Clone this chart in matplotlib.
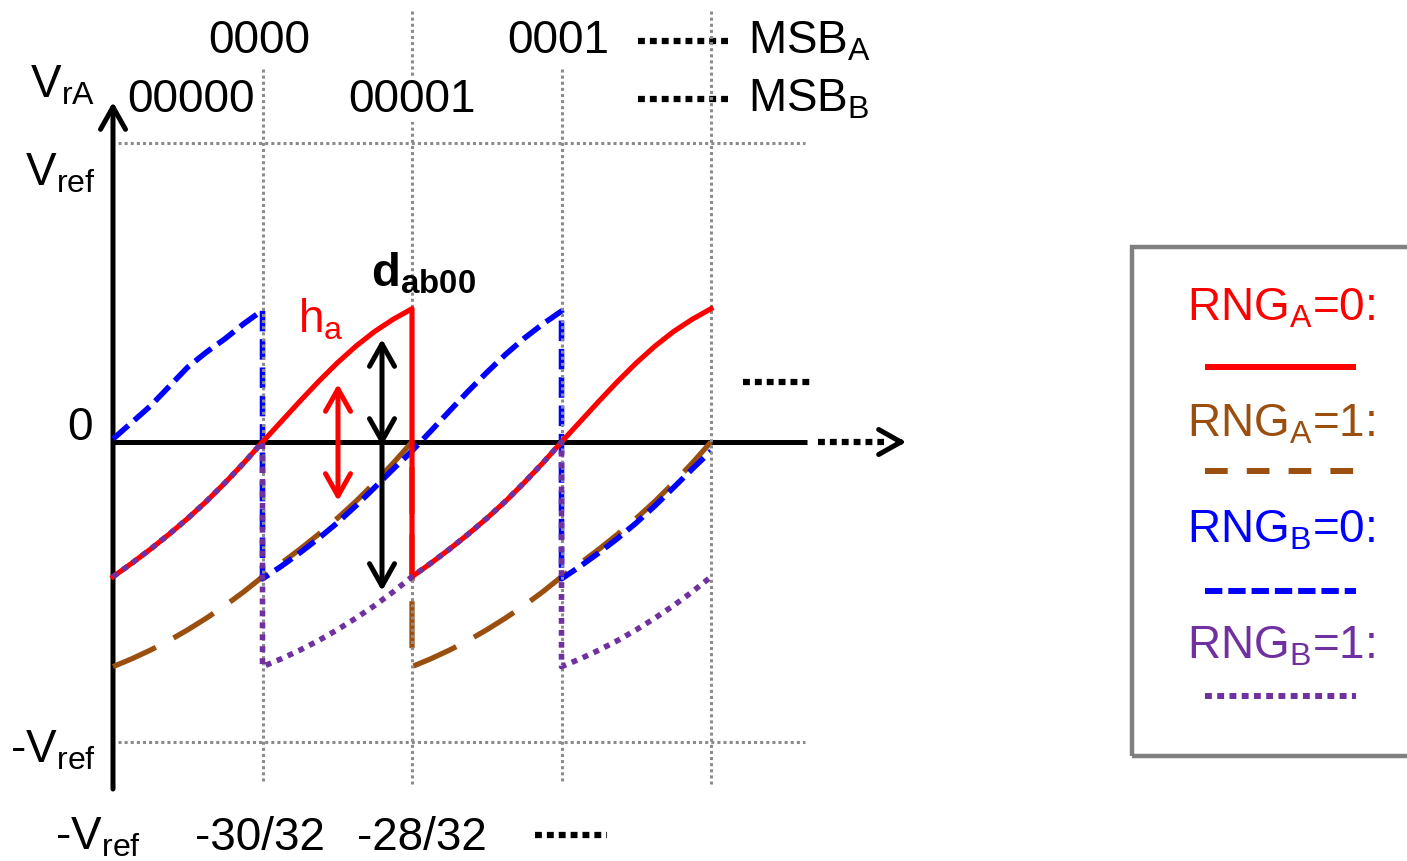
import numpy as np
import matplotlib.pyplot as plt
from matplotlib.patches import Rectangle

plt.rcParams['font.family'] = ['Liberation Sans', 'DejaVu Sans']
plt.rcParams['mathtext.fontset'] = 'custom'
plt.rcParams['mathtext.rm'] = 'Liberation Sans'
plt.rcParams['mathtext.it'] = 'Liberation Sans:italic'
plt.rcParams['mathtext.bf'] = 'Liberation Sans:bold'
plt.rcParams['mathtext.default'] = 'rm'

# residue curves over one period; x in code steps, y in units of Vref
STEP_X = [0, 0.125, 0.25, 0.375, 0.5, 0.625, 0.75, 0.875, 1.0,
          1.125, 1.25, 1.375, 1.5, 1.625, 1.75, 1.875, 2.0]
RED_Y = [-0.45, -0.405, -0.358, -0.308, -0.255, -0.198, -0.136, -0.070, 0.0,
         0.068, 0.136, 0.202, 0.264, 0.320, 0.369, 0.410, 0.445]
BROWN_Y = [-0.75, -0.724, -0.695, -0.663, -0.627, -0.588, -0.546, -0.500, -0.45,
           -0.405, -0.358, -0.308, -0.255, -0.198, -0.136, -0.070, 0.0]
BLUE_Y = [-0.457, -0.415, -0.370, -0.322, -0.270, -0.213, -0.152, -0.090, -0.030,
          0.036, 0.103, 0.169, 0.232, 0.292, 0.346, 0.394, 0.437]
BLUE_HEAD_Y = [0.01, 0.065, 0.12, 0.185, 0.25, 0.30, 0.345, 0.395, 0.44]

MSB_A_CODES = ['0000', '0001']
MSB_B_CODES = ['00000', '00001']
X_LABELS = ['-V$_{ref}$', '-30/32', '-28/32']
Y_LABELS = ['V$_{ref}$', '0', '-V$_{ref}$']

LEGEND = ['RNG$_A$=0:', 'RNG$_A$=1:', 'RNG$_B$=0:', 'RNG$_B$=1:']

RED = '#ff0000'
BROWN = '#9b4f0f'
BLUE = '#0000ff'
PURPLE = '#7030a0'
GRID = '#8c8c8c'

W, H = 1407, 862
X0, XU = 113.0, 149.5   # pixel of x=0, pixels per step
Y0, YU = 443.0, 299.5   # pixel of y=0, pixels per Vref


def P(xp, yp):
    # pixel position -> data position
    return (xp - X0) / XU, (Y0 - yp) / YU


def periodic(y, offsets, lo=0.0, hi=4.0):
    xs, ys = [], []
    for off in offsets:
        x = np.asarray(STEP_X) + off
        keep = (x >= lo - 1e-9) & (x <= hi + 1e-9)
        xs.append(x[keep])
        ys.append(np.asarray(y)[keep])
    return np.concatenate(xs), np.concatenate(ys)


fig = plt.figure(figsize=(W / 100, H / 100), dpi=100)
ax = fig.add_axes([0, 0, 1, 1])
ax.set_xlim(P(0, 0)[0], P(W, 0)[0])
ax.set_ylim(P(0, H)[1], P(0, 0)[1])
ax.axis('off')

# reference grid
grid_kw = dict(color=GRID, lw=2.2, ls=(0, (1, 1)), zorder=5)
for xv in [1, 3]:
    ax.plot([xv, xv], [P(0, 70)[1], P(0, 785)[1]], **grid_kw)
for xv in [2, 4]:
    ax.plot([xv, xv], [P(0, 12)[1], P(0, 785)[1]], **grid_kw)
for yv in [1, -1]:
    ax.plot([P(118, 0)[0], P(805, 0)[0]], [yv, yv], **grid_kw)

# axes with arrows
arrow_kw = dict(arrowstyle='->,head_length=0.8,head_width=0.45', lw=3.6,
                color='black', mutation_scale=20, shrinkA=0, shrinkB=0)
ax.annotate('', xy=P(113, 103), xytext=P(113, 790), arrowprops=arrow_kw, zorder=2)
ax.plot([0, P(807, 0)[0]], [0, 0], color='black', lw=3.6, zorder=2,
        solid_capstyle='butt')
dots_kw = dict(color='black', lw=4.5, ls=(0, (1.1, 0.8)), zorder=2)
ax.plot([P(818, 0)[0], P(884, 0)[0]], [0, 0], **dots_kw)
ax.annotate('', xy=P(906, 443), xytext=P(898, 443), arrowprops=arrow_kw, zorder=2)
ax.plot([P(743, 0)[0], P(810, 0)[0]], [P(0, 383)[1]] * 2, **dots_kw)
ax.plot([P(638, 0)[0], P(730, 0)[0]], [P(0, 42)[1]] * 2, **dots_kw)
ax.plot([P(638, 0)[0], P(730, 0)[0]], [P(0, 100)[1]] * 2, **dots_kw)
ax.plot([P(535, 0)[0], P(607, 0)[0]], [P(0, 836)[1]] * 2, **dots_kw)

# residue curves
bx, by = periodic(BROWN_Y, [0, 2])
ax.plot(bx, by, color=BROWN, lw=3.8, ls=(0, (8.9, 3.8)), zorder=3)

ux, uy = periodic(BLUE_Y, [1, 3])
ux = np.concatenate([STEP_X[:9], ux])
uy = np.concatenate([BLUE_HEAD_Y, uy])
ax.plot(ux, uy, color=BLUE, lw=4.0, ls=(0, (3.7, 1.4)), zorder=4)

rx, ry = periodic(RED_Y, [0, 2])
ax.plot(rx, ry, color=RED, lw=3.7, zorder=6)

px_, py_ = periodic(BROWN_Y, [-1, 1, 3])
ax.plot(px_, py_, color=PURPLE, lw=4.0, ls=(0, (1.05, 1.1)), zorder=7)

# h_a and d_ab00 markers
dbl = '<->,head_length=0.8,head_width=0.45'
ax.annotate('', xy=P(338, 385), xytext=P(338, 502),
            arrowprops=dict(arrow_kw, arrowstyle=dbl, color=RED), zorder=8)
ax.annotate('', xy=P(382, 340), xytext=P(382, 447),
            arrowprops=dict(arrow_kw, arrowstyle=dbl), zorder=8)
ax.annotate('', xy=P(382, 592), xytext=P(382, 443), arrowprops=arrow_kw, zorder=8)

FS = 33
ax.text(*P(298, 333), 'h$_a$', color=RED, fontsize=FS, va='baseline', zorder=9)
ax.text(*P(371, 287), r'$\mathbf{d}_{\mathbf{ab00}}$', color='black',
        fontsize=FS + 1, va='baseline', zorder=9)

# code labels on top
white = dict(facecolor='white', edgecolor='none', pad=1)
for i, code in enumerate(MSB_A_CODES):
    ax.text(2 * i + 1 - 0.02, P(0, 53)[1], code, fontsize=FS, ha='center',
            va='baseline', bbox=white, zorder=6)
for xc, code in zip([0.52, 2.0], MSB_B_CODES):
    ax.text(xc, P(0, 112)[1], code, fontsize=FS, ha='center', va='baseline',
            bbox=white, zorder=6)
ax.text(*P(748, 53), 'MSB$_A$', fontsize=FS, va='baseline')
ax.text(*P(748, 111), 'MSB$_B$', fontsize=FS, va='baseline')
ax.text(*P(30, 97), 'V$_{rA}$', fontsize=FS, va='baseline')

# axis labels
for yb, lab in zip([185, 440, 763], Y_LABELS):
    ax.text(P(96 if lab != '0' else 93, 0)[0], P(0, yb)[1], lab, fontsize=FS,
            ha='right', va='baseline')
for xc, lab in zip([98, 260, 422], X_LABELS):
    ax.text(P(xc, 0)[0], P(0, 850)[1], lab, fontsize=FS, ha='center',
            va='baseline')

# legend box
x_l, y_t = P(1132, 248)
x_r, y_b = P(1430, 757)
ax.add_patch(Rectangle((x_l, y_b), x_r - x_l, y_t - y_b, fill=False,
                       edgecolor='#808080', lw=3.2, zorder=2))
leg_styles = [
    (RED, '-'),
    (BROWN, (0, (3.8, 3.2))),
    (BLUE, (0, (2.9, 1.0))),
    (PURPLE, (0, (1.15, 0.9))),
]
for lab, (col, ls), tb, lb in zip(LEGEND, leg_styles, [320, 437, 543, 658],
                                  [368, 472, 592, 697]):
    ax.text(P(1281, 0)[0], P(0, tb)[1], lab, color=col, fontsize=FS,
            ha='center', va='baseline')
    ax.plot([P(1205, 0)[0], P(1356, 0)[0]], [P(0, lb)[1]] * 2, color=col,
            lw=4.3, ls=ls, solid_capstyle='butt')

fig.savefig('out.png', dpi=100)
